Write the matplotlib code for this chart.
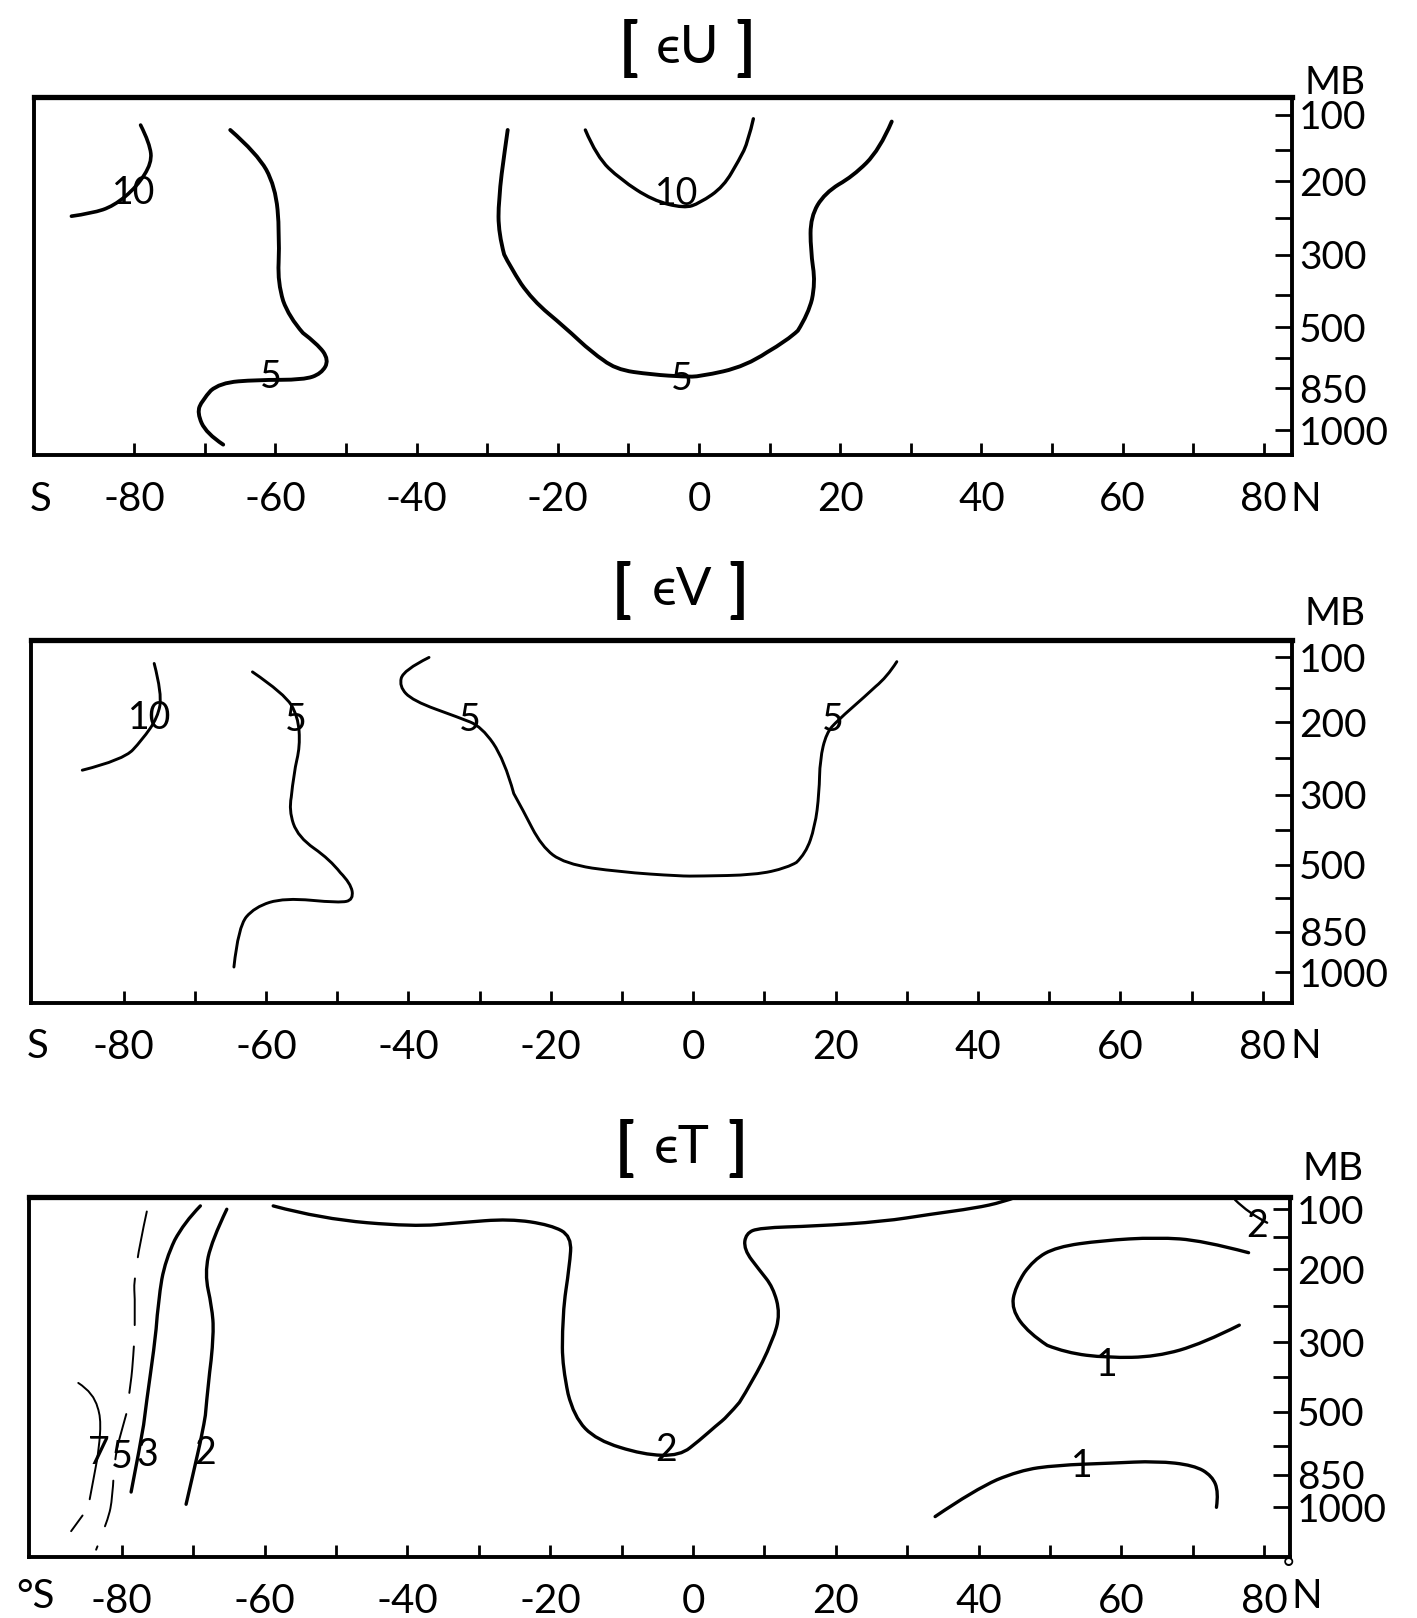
import numpy as np
import matplotlib
matplotlib.use('Agg')
import matplotlib.pyplot as plt
from matplotlib.path import Path
from matplotlib.patches import PathPatch

plt.rcParams['font.family'] = ['Lato', 'DejaVu Sans']

# pressure levels (mb) on the right-hand axis; only some carry a label
LEVELS = [100, 150, 200, 250, 300, 400, 500, 700, 850, 1000]
LEVEL_LABELS = ['100', '', '200', '', '300', '', '500', '', '850', '1000']
LATS = list(range(-80, 81, 10))
LAT_LABELS = ['-80', '', '-60', '', '-40', '', '-20', '', '0', '',
              '20', '', '40', '', '60', '', '80']

# --- [eU] contours, (latitude, pressure) ---
U_10_SOUTH = [(-88.9, 248), (-86.0, 244), (-82.9, 234), (-79.6, 207), (-77.5, 171),
              (-77.8, 141), (-79.1, 115)]
U_5_SOUTH = [(-66.4, 122), (-62.6, 156), (-60.0, 207), (-59.4, 271), (-59.7, 369),
             (-58.1, 468), (-54.1, 607), (-52.4, 710), (-53.5, 778), (-56.0, 809),
             (-62.6, 809), (-67.9, 824), (-70.4, 894), (-71.1, 938), (-69.8, 1011),
             (-67.4, 1051)]
U_5_TROPICS = [(-27.1, 122), (-27.5, 150), (-28.4, 226), (-28.4, 271), (-26.8, 328),
               (-23.6, 416), (-19.0, 500), (-15.1, 667), (-11.9, 757), (-6.6, 783),
               (-2.1, 793), (0.1, 793), (6.7, 741), (12.5, 587), (15.5, 458),
               (16.5, 369), (15.8, 293), (15.8, 249), (17.8, 216), (21.8, 192),
               (25.6, 150), (27.3, 110)]
U_10_TROPICS = [(-16.1, 122), (-14.5, 161), (-11.1, 197), (-6.6, 226), (-2.1, 237),
                (0.1, 230), (3.5, 207), (5.7, 166), (7.0, 137), (7.7, 106)]
U_LABELS = [('10', -80.1, 216), ('5', -60.6, 796), ('10', -3.2, 217), ('5', -2.5, 803)]

# --- [eV] contours ---
V_10_SOUTH = [(-85.8, 267), (-80.0, 253), (-77.4, 225), (-75.2, 193), (-74.6, 159),
              (-75.7, 110)]
V_5_SOUTH = [(-61.9, 124), (-57.4, 159), (-55.5, 191), (-55.2, 234), (-56.1, 271),
             (-56.8, 344), (-55.5, 421), (-51.0, 485), (-48.1, 612), (-47.7, 709),
             (-49.7, 723), (-57.4, 700), (-61.6, 741), (-63.9, 827), (-64.5, 981)]
V_5_TROPICS = [(-37.1, 100), (-40.7, 121), (-41.3, 148), (-39.4, 169), (-32.9, 193),
               (-29.7, 206), (-26.5, 253), (-23.9, 344), (-21.3, 447), (-18.1, 497),
               (-10.3, 544), (-1.9, 569), (0.9, 569), (8.7, 562), (13.2, 519),
               (15.8, 468), (17.1, 391), (17.7, 297), (17.8, 253), (18.7, 215),
               (20.3, 197), (24.1, 163), (27.2, 133), (28.6, 107)]
V_LABELS = [('10', -76.4, 194), ('5', -55.8, 197), ('5', -31.4, 196), ('5', 19.6, 197)]

# --- [eT] contours ---
T_2_MAIN = [(-58.8, 94), (-52.1, 117), (-39.2, 131), (-32.7, 124), (-25.7, 117),
            (-19.9, 128), (-17.0, 148), (-17.3, 195), (-18.3, 260), (-18.3, 370),
            (-16.7, 529), (-13.5, 665), (-7.0, 744), (-1.8, 750), (0.9, 665),
            (3.2, 582), (4.8, 529), (8.2, 418), (11.2, 297), (12.2, 260), (11.2, 224),
            (9.3, 201), (7.1, 169), (7.4, 143), (9.3, 133), (17.1, 130), (26.6, 122),
            (33.2, 109), (39.5, 98), (43.4, 87), (45.3, 78)]
T_2_NE = [(75.9, 83), (77.8, 107), (80.4, 124)]
T_1_UPPER = [(77.8, 174), (71.4, 155), (64.9, 150), (57.3, 155), (50.9, 165),
             (47.7, 185), (45.1, 224), (44.6, 254), (47.0, 287), (52.2, 330),
             (58.0, 345), (64.9, 342), (71.4, 303), (76.5, 276)]
T_1_LOWER = [(33.9, 1042), (39.4, 920), (45.7, 828), (50.9, 800), (58.6, 789),
             (64.9, 778), (70.1, 800), (72.7, 856), (73.6, 931), (73.3, 1000)]
T_2_SOUTH = [(-65.3, 100), (-67.4, 155), (-68.4, 206), (-67.4, 250), (-67.1, 287),
             (-67.9, 418), (-68.7, 624), (-70.0, 844), (-71.0, 986)]
T_3_SOUTH = [(-69.0, 94), (-71.3, 124), (-73.9, 185), (-74.9, 242), (-75.5, 321),
             (-76.5, 465), (-77.4, 688), (-78.7, 930)]
T_5_SOUTH = [(-76.5, 104), (-78.4, 206), (-78.1, 250), (-78.4, 342), (-78.7, 415),
             (-80.0, 606), (-81.0, 756), (-81.3, 954), (-81.9, 1056), (-83.6, 1192)]
T_7_SOUTH = [(-86.1, 418), (-83.9, 447), (-82.9, 529), (-83.2, 717), (-83.9, 859),
             (-84.5, 963)]
T_7_SOUTH_TAIL = [(-85.5, 1037), (-87.1, 1108)]
T_LABELS = [('7', -83.2, 733), ('5', -80.0, 756), ('3', -76.5, 744), ('2', -68.4, 733),
            ('2', -3.8, 717), ('2', 79.0, 130), ('1', 57.9, 367), ('1', 54.5, 806)]

DASH = (0, (24, 11))

PANELS = [
    dict(title='ϵU', br=(-10.0, 6.6), rect=(34, 97, 1292, 455), xlim=(-94.2, 84.0),
         fracs=[0.049, 0.147, 0.236, 0.337, 0.441, 0.553, 0.643, 0.729, 0.813, 0.931],
         ptop=75, pbot=1088, mb=1.04, lab=-0.125, south='S',
         lines=[(U_10_SOUTH, 2.6, '-'), (U_5_SOUTH, 2.8, '-'),
                (U_5_TROPICS, 2.8, '-'), (U_10_TROPICS, 2.4, '-')],
         labels=U_LABELS),
    dict(title='ϵV', br=(-10.0, 6.4), rect=(31, 640, 1292, 1003), xlim=(-93.0, 84.1),
         fracs=[0.048, 0.131, 0.227, 0.324, 0.426, 0.523, 0.619, 0.710, 0.804, 0.915],
         ptop=71, pbot=1115, mb=1.072, lab=-0.120, south='S',
         lines=[(V_10_SOUTH, 2.1, '-'), (V_5_SOUTH, 2.1, '-'), (V_5_TROPICS, 2.1, '-')],
         labels=V_LABELS),
    dict(title='ϵT', br=(-9.6, 6.2), rect=(29, 1197, 1290, 1557), xlim=(-93.0, 83.6),
         fracs=[0.034, 0.112, 0.201, 0.304, 0.404, 0.499, 0.596, 0.693, 0.771, 0.862],
         ptop=78, pbot=1225, mb=1.078, lab=-0.110, south='°S',
         lines=[(T_2_MAIN, 2.4, '-'), (T_2_NE, 1.7, '-'), (T_1_UPPER, 2.4, '-'),
                (T_1_LOWER, 2.4, '-'), (T_2_SOUTH, 2.4, '-'), (T_3_SOUTH, 2.4, '-'),
                (T_5_SOUTH, 1.4, DASH), (T_7_SOUTH, 1.4, '-'), (T_7_SOUTH_TAIL, 1.4, '-')],
         labels=T_LABELS),
]


def smooth_line(ax, pts, lw, ls):
    """hand-drawn look: quadratic curves through the midpoints of the read points"""
    pts = [tuple(v) for v in pts]
    verts, codes = [pts[0]], [Path.MOVETO]
    n = len(pts)
    if n == 2:
        verts.append(pts[1])
        codes.append(Path.LINETO)
    for i in range(1, n - 1):
        end = pts[-1] if i == n - 2 else ((pts[i][0] + pts[i + 1][0]) / 2,
                                           (pts[i][1] + pts[i + 1][1]) / 2)
        verts += [pts[i], end]
        codes += [Path.CURVE3, Path.CURVE3]
    ax.add_patch(PathPatch(Path(verts, codes), fill=False, edgecolor='black', lw=lw,
                           ls=ls, capstyle='round', joinstyle='round'))


W, H = 1417, 1618
fig = plt.figure(figsize=(W / 100, H / 100), dpi=100)
FS = 29

for cfg in PANELS:
    x0, y0, x1, y1 = cfg['rect']
    ax = fig.add_axes([x0 / W, 1 - y1 / H, (x1 - x0) / W, (y1 - y0) / H])

    pp = np.array([cfg['ptop']] + LEVELS + [cfg['pbot']], float)
    ff = np.array([0.0] + cfg['fracs'] + [1.0])
    ax.set_yscale('function', functions=(lambda p, pp=pp, ff=ff: np.interp(p, pp, ff),
                                         lambda f, pp=pp, ff=ff: np.interp(f, ff, pp)))
    ax.set_ylim(cfg['pbot'], cfg['ptop'])
    ax.set_xlim(*cfg['xlim'])

    for pts, lw, ls in cfg['lines']:
        smooth_line(ax, pts, lw, ls)
    for s, lat, p in cfg['labels']:
        ax.text(lat, p, s, ha='center', va='center', fontsize=27)

    ax.set_xticks(LATS, LAT_LABELS)
    ax.tick_params(axis='x', direction='in', length=9, width=2, pad=19, labelsize=FS)
    ax.yaxis.tick_right()
    ax.set_yticks(LEVELS, LEVEL_LABELS)
    ax.tick_params(axis='y', direction='in', length=12, width=2, pad=5, labelsize=28)
    for sp in ax.spines.values():
        sp.set_linewidth(2.8)
    ax.spines['top'].set_linewidth(3.8)

    xt = ax.get_xaxis_transform()
    ax.text(cfg['xlim'][0] + 0.9, cfg['lab'], cfg['south'], transform=xt,
            ha='center', va='center', fontsize=FS)
    ax.text(86.0, cfg['lab'], 'N', transform=xt, ha='center', va='center', fontsize=FS)
    ax.text(1.01, cfg['mb'], 'MB', transform=ax.transAxes, ha='left', va='center',
            fontsize=28)

    # bracketed panel title
    ax.text(-1.6, 1.135, cfg['title'], transform=xt, ha='center', va='center', fontsize=38)
    ax.text(cfg['br'][0], 1.135, '[', transform=xt, ha='center', va='center',
            fontsize=46, fontweight='bold')
    ax.text(cfg['br'][1], 1.135, ']', transform=xt, ha='center', va='center',
            fontsize=46, fontweight='bold')

# the degree sign over "80N" on the last panel
ax.text(83.4, -0.035, '°', transform=ax.get_xaxis_transform(), ha='center',
        va='center', fontsize=20)

fig.savefig('out.png', dpi=100)
